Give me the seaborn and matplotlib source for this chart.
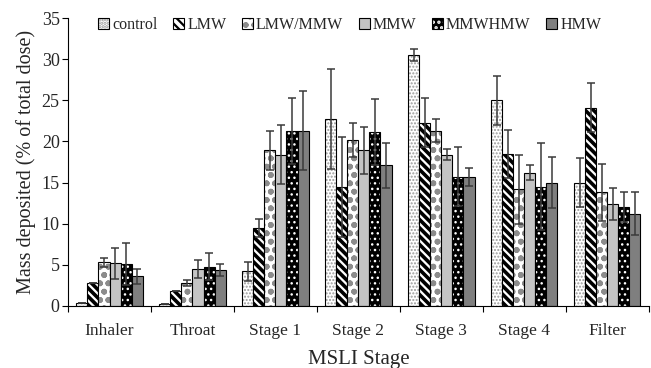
import numpy as np
import pandas as pd
import seaborn as sns
import matplotlib.pyplot as plt

# Data
stages = ['Inhaler', 'Throat', 'Stage 1', 'Stage 2', 'Stage 3', 'Stage 4', 'Filter']
formulations = ['control', 'LMW', 'LMW/MMW', 'MMW', 'MMWHMW', 'HMW']

control = [0.4, 0.3, 4.2, 22.7, 30.5, 25.0, 15.0]
lmw = [2.8, 1.8, 9.5, 14.5, 22.3, 18.5, 24.1]
lmw_mmw = [5.3, 2.8, 18.9, 20.2, 21.3, 14.2, 13.8]
mmw = [5.2, 4.5, 18.4, 18.9, 18.4, 16.2, 12.4]
mmwhmw = [5.1, 4.8, 21.3, 21.1, 15.7, 14.5, 12.0]
hmw = [3.6, 4.4, 21.3, 17.1, 15.7, 15.0, 11.2]

control_err = [0.0, 0.0, 1.2, 6.1, 0.7, 3.0, 3.0]
lmw_err = [0.0, 0.0, 1.1, 6.1, 3.0, 2.9, 3.0]
lmw_mmw_err = [0.5, 0.4, 2.4, 2.1, 1.4, 4.2, 3.5]
mmw_err = [1.9, 1.1, 3.6, 2.8, 0.7, 0.9, 1.9]
mmwhmw_err = [2.6, 1.6, 4.0, 4.0, 3.6, 5.3, 1.8]
hmw_err = [0.9, 0.7, 4.8, 2.7, 1.1, 3.1, 2.6]

values = [control, lmw, lmw_mmw, mmw, mmwhmw, hmw]
errors = [control_err, lmw_err, lmw_mmw_err, mmw_err, mmwhmw_err, hmw_err]

rows = []
for f, vals, errs in zip(formulations, values, errors):
    for s, v, e in zip(stages, vals, errs):
        rows.append({'stage': s, 'form': f, 'mass': v, 'err': e})
df = pd.DataFrame(rows)

# fill, hatch, hatch colour, hatch width for each formulation
styles = {
    'control': ('white', '.....', '#9a9a9a', 1.0),
    'LMW': ('white', '\\\\\\\\', 'black', 2.6),
    'LMW/MMW': ('white', 'oo', '#8c8c8c', 1.8),
    'MMW': ('#c4c4c4', '', 'black', 1.0),
    'MMWHMW': ('black', '...', 'white', 1.0),
    'HMW': ('#7f7f7f', '', 'black', 1.0),
}

sns.set_style('white')
plt.rcParams['font.family'] = ['Liberation Serif', 'DejaVu Serif']
plt.rcParams['hatch.linewidth'] = 1.6

fig = plt.figure(figsize=(6.51, 3.68), dpi=100)
ax = fig.add_axes([0.1045, 0.1685, 0.892, 0.7825])

sns.barplot(data=df, x='stage', y='mass', hue='form', order=stages,
            hue_order=formulations, palette=['white'] * 6, errorbar=None,
            width=0.8, edgecolor='black', linewidth=0.8, ax=ax)

for cont, f in zip(ax.containers, formulations):
    face, hatch, hcol, hlw = styles[f]
    sub = df[df['form'] == f].set_index('stage').loc[stages]
    xs = []
    for p in cont.patches:
        p.set_facecolor(face)
        p.set_edgecolor('black')
        if hatch:
            p.set_hatch(hatch)
            p._hatch_color = plt.matplotlib.colors.to_rgba(hcol)
            if hasattr(p, 'set_hatch_linewidth'):
                p.set_hatch_linewidth(hlw)
        xs.append(p.get_x() + p.get_width() / 2)
    ax.errorbar(xs, sub['mass'], yerr=sub['err'], fmt='none', ecolor='#3a3a3a',
                elinewidth=1.1, capsize=3, capthick=1.1, zorder=5)

ax.set_ylim(0, 35)
ax.set_xlim(-0.5, len(stages) - 0.5)
ax.set_yticks(np.arange(0, 36, 5))
ax.set_xticks(np.arange(len(stages)))
ax.set_xticklabels(stages)
ax.set_xticks(np.arange(-0.5, len(stages), 1), minor=True)
ax.tick_params(axis='x', which='major', length=0, labelsize=12.5, pad=12)
ax.tick_params(axis='x', which='minor', length=4, width=0.8, direction='out', color='black')
ax.tick_params(axis='y', length=4, width=0.8, direction='out', labelsize=13, color='black', pad=2)
ax.yaxis.set_ticks_position('left')
ax.xaxis.set_ticks_position('bottom')
sns.despine(ax=ax)
for sp in ['left', 'bottom']:
    ax.spines[sp].set_color('black')
    ax.spines[sp].set_linewidth(0.8)

ax.set_xlabel('MSLI Stage', fontsize=15, labelpad=8)
ax.set_ylabel('Mass deposited (% of total dose)', fontsize=14.5, labelpad=4)

handles = ax.containers
leg = ax.legend(handles, formulations, loc='center', bbox_to_anchor=(0.485, 0.975),
                ncol=6, frameon=False, fontsize=11.5, handlelength=0.7,
                handleheight=0.7, handletextpad=0.2, columnspacing=0.95)

fig.savefig('out.png', dpi=100)
